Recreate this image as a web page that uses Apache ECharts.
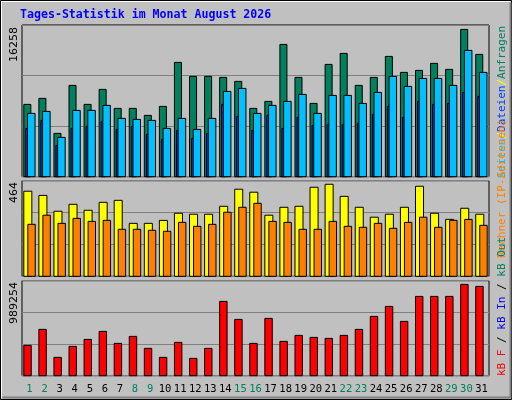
<!DOCTYPE html>
<html><head><meta charset="utf-8">
<script src="https://cdn.jsdelivr.net/npm/echarts@6/dist/echarts.min.js"></script>
<style>html,body{margin:0;padding:0;background:#c0c0c0}#c{width:512px;height:400px}</style>
</head><body><div id="c"></div>
<script>
const days = ['1','2','3','4','5','6','7','8','9','10','11','12','13','14','15','16','17','18','19','20','21','22','23','24','25','26','27','28','29','30','31'];
const weekend = [1,2,8,9,15,16,22,23,29,30];
const hits = [7982,8644,4782,10078,7982,9637,7540,7540,6768,7761,12616,11071,11071,10961,10520,7540,8313,14602,10961,8092,12395,13609,10078,10961,13278,11513,11733,12506,11844,16258,13499];
const files = [6988,7209,4340,7319,7319,7871,6437,6326,6216,5333,6437,5223,6437,9416,9747,6988,7871,8312,9085,6988,8974,8974,8092,9305,11071,9967,10850,10850,10078,13940,11512];
const pages = [5333,6216,3457,5333,5554,6105,5223,5554,4671,4119,5112,4230,4781,7981,6657,5112,6768,5333,6547,5664,5774,5774,5885,6878,7761,6547,8312,7981,8092,9305,8864];
const visits = [429,408,328,363,333,373,383,267,267,282,318,313,313,353,439,424,308,348,353,449,464,403,348,298,313,348,454,318,287,343,313];
const sites = [262,308,267,292,277,282,237,237,232,227,272,252,262,323,348,368,277,272,237,237,277,252,247,267,242,272,298,247,282,287,257];
const kbytes = [328540,501830,198570,317710,393520,480160,350190,426000,296030,198570,361040,187730,296030,805070,610120,350190,620960,371850,436840,415180,404350,436840,501830,642620,750930,588470,859250,859250,859250,989254,967560];
const maxLabels = ['16258','464','989254'];
const axisMax = [16743, 482, 1029345];

function bar(off, w, color){
  return function(params, api){
    const c = api.coord([api.value(0), api.value(1)]);
    const b = api.coord([api.value(0), 0]);
    const bw = api.size([1,0])[0];
    const k = bw/15;
    return {type:'rect', shape:{x:c[0]-bw/2+off*k, y:c[1], width:w*k, height:b[1]-c[1]},
      style:{fill:color, stroke:'#000', lineWidth:1}};
  };
}
const d = arr => arr.map((v,i)=>[i,v]);
const grids = [
  {left:22, right:23, top:25, height:151.7},
  {left:22, right:23, top:180.7, height:95.6},
  {left:22, right:23, top:280.7, height:95}
];
const mono = 'DejaVu Sans Mono';
const chart = echarts.init(document.getElementById('c'), null, {renderer:'canvas'});
chart.setOption({
  backgroundColor:'#c0c0c0',
  animation:false,
  grid: grids.map(g=>Object.assign({show:true, borderColor:'#000', borderWidth:1}, g)),
  xAxis: [0,1,2].map(i=>({type:'category', gridIndex:i, data:days, boundaryGap:true,
    axisLine:{show:false}, axisTick:{show:false},
    axisLabel:{show:i===2, margin:8, fontFamily:mono, fontSize:10.5, interval:0,
      color:(v)=> weekend.includes(+v)?'#00805c':'#000'}})),
  yAxis: [0,1,2].map(i=>({type:'value', gridIndex:i, min:0, max:axisMax[i], interval:axisMax[i]/3,
    axisLabel:{show:false}, axisLine:{show:false}, axisTick:{show:false},
    splitLine:{lineStyle:{color:'#808080', width:1}}})),
  series: [
    {type:'custom', xAxisIndex:0, yAxisIndex:0, data:d(hits), renderItem:bar(1.8,7,'#00805c')},
    {type:'custom', xAxisIndex:0, yAxisIndex:0, data:d(pages), renderItem:bar(3.8,2,'#0040ff')},
    {type:'custom', xAxisIndex:0, yAxisIndex:0, data:d(files), renderItem:bar(5.5,7.5,'#00c0ff')},
    {type:'custom', xAxisIndex:1, yAxisIndex:1, data:d(visits), renderItem:bar(1.8,8,'#ffff00')},
    {type:'custom', xAxisIndex:1, yAxisIndex:1, data:d(sites), renderItem:bar(5.8,7.4,'#ff8000')},
    {type:'custom', xAxisIndex:2, yAxisIndex:2, data:d(kbytes), renderItem:bar(1.8,7.4,'#ff0000')}
  ],
  graphic: [
    {type:'rect', shape:{x:0.5,y:0.5,width:511,height:399}, style:{fill:null, stroke:'#000', lineWidth:1}, silent:true},
    {type:'polyline', shape:{points:[[1.5,398],[1.5,1.5],[510,1.5]]}, style:{fill:null, stroke:'#fff', lineWidth:1}},
    {type:'polyline', shape:{points:[[2.5,397.5],[510.5,397.5],[510.5,2.5]]}, style:{fill:null, stroke:'#808080', lineWidth:2}},
    {type:'text', x:20, y:15, style:{text:'Tages-Statistik im Monat August 2026', fill:'#0000ff',
      font:'bold 11.6px "DejaVu Sans Mono"', verticalAlign:'middle'}},
    ...[[27,0],[182,1],[282,2]].map(([y,i])=>({type:'text', x:14, y:y, rotation:Math.PI/2,
      style:{text:maxLabels[i], fill:'#000', font:'11px "DejaVu Sans"', align:'right', verticalAlign:'middle'}})),
    {type:'text', x:502, y:26, rotation:Math.PI/2, style:{align:'right', verticalAlign:'middle',
      text:'{a|Seiten}{s|/}{b|Dateien}{s|/}{c|Anfragen}',
      rich:{a:{fill:'#00c0ff',font:'11px "DejaVu Sans Mono"'}, b:{fill:'#0040ff',font:'11px "DejaVu Sans Mono"'},
        c:{fill:'#00805c',font:'11px "DejaVu Sans Mono"'}, s:{fill:'#ffff00',font:'11px "DejaVu Sans Mono"'}}}},
    {type:'text', x:502, y:258, rotation:Math.PI/2, style:{align:'left', verticalAlign:'middle',
      text:'Rechner (IP-Adressen)', fill:'#ff8000', font:'11px "DejaVu Sans Mono"'}},
    {type:'text', x:502, y:376, rotation:Math.PI/2, style:{align:'left', verticalAlign:'middle',
      text:'{r|kB F}{k| / }{b|kB In}{k| / }{g|kB Out}',
      rich:{r:{fill:'#ff0000',font:'11px "DejaVu Sans Mono"'}, k:{fill:'#000',font:'11px "DejaVu Sans Mono"'},
        b:{fill:'#0000ff',font:'11px "DejaVu Sans Mono"'}, g:{fill:'#00805c',font:'11px "DejaVu Sans Mono"'}}}}
  ]
});
</script></body></html>
